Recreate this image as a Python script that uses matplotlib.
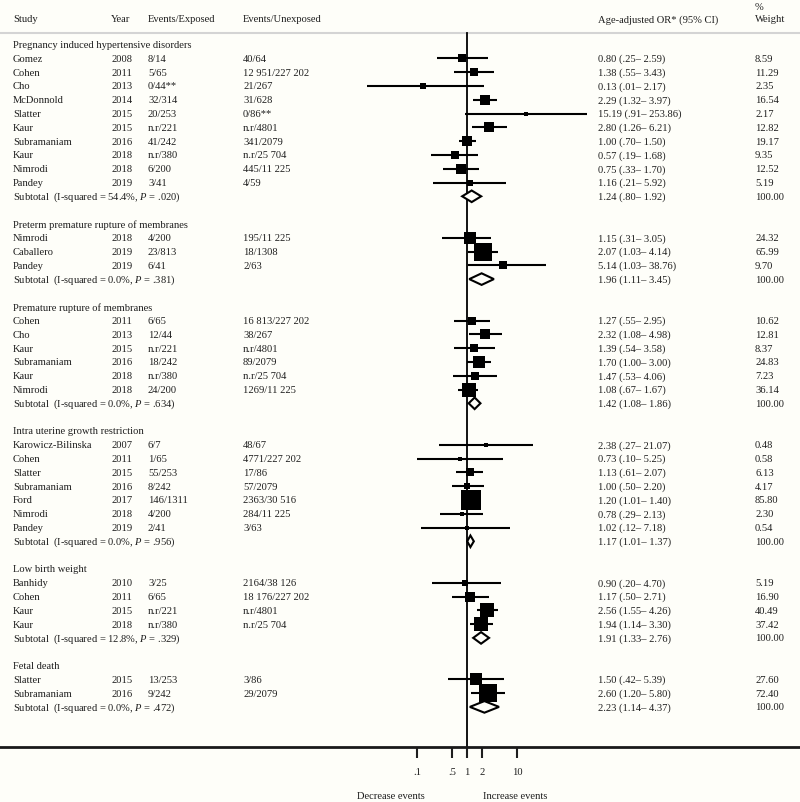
import matplotlib
matplotlib.use('Agg')
import matplotlib.pyplot as plt
from matplotlib import transforms
from matplotlib.patches import Polygon
from matplotlib.ticker import NullLocator

plt.rcParams['font.family'] = ['Liberation Serif', 'DejaVu Serif']
plt.rcParams['mathtext.fontset'] = 'custom'
plt.rcParams['mathtext.rm'] = 'Liberation Serif'
plt.rcParams['mathtext.it'] = 'Liberation Serif:italic'

# ---------------- data ----------------
group_titles = ["Pregnancy induced hypertensive disorders",
                "Preterm premature rupture of membranes",
                "Premature rupture of membranes",
                "Intra uterine growth restriction",
                "Low birth weight",
                "Fetal death"]
group_sizes = [10, 3, 6, 7, 4, 2]

study = ["Gomez", "Cohen", "Cho", "McDonnold", "Slatter", "Kaur", "Subramaniam", "Kaur", "Nimrodi", "Pandey",
         "Nimrodi", "Caballero", "Pandey",
         "Cohen", "Cho", "Kaur", "Subramaniam", "Kaur", "Nimrodi",
         "Karowicz-Bilinska", "Cohen", "Slatter", "Subramaniam", "Ford", "Nimrodi", "Pandey",
         "Banhidy", "Cohen", "Kaur", "Kaur",
         "Slatter", "Subramaniam"]
year = ["2008", "2011", "2013", "2014", "2015", "2015", "2016", "2018", "2018", "2019",
        "2018", "2019", "2019",
        "2011", "2013", "2015", "2016", "2018", "2018",
        "2007", "2011", "2015", "2016", "2017", "2018", "2019",
        "2010", "2011", "2015", "2018",
        "2015", "2016"]
events_exposed = ["8/14", "5/65", "0/44**", "32/314", "20/253", "n.r/221", "41/242", "n.r/380", "6/200", "3/41",
                  "4/200", "23/813", "6/41",
                  "6/65", "12/44", "n.r/221", "18/242", "n.r/380", "24/200",
                  "6/7", "1/65", "55/253", "8/242", "146/1311", "4/200", "2/41",
                  "3/25", "6/65", "n.r/221", "n.r/380",
                  "13/253", "9/242"]
events_unexposed = ["40/64", "12 951/227 202", "21/267", "31/628", "0/86**", "n.r/4801", "341/2079", "n.r/25 704",
                    "445/11 225", "4/59",
                    "195/11 225", "18/1308", "2/63",
                    "16 813/227 202", "38/267", "n.r/4801", "89/2079", "n.r/25 704", "1269/11 225",
                    "48/67", "4771/227 202", "17/86", "57/2079", "2363/30 516", "284/11 225", "3/63",
                    "2164/38 126", "18 176/227 202", "n.r/4801", "n.r/25 704",
                    "3/86", "29/2079"]
odds_ratio = [0.80, 1.38, 0.13, 2.29, 15.19, 2.80, 1.00, 0.57, 0.75, 1.16,
              1.15, 2.07, 5.14,
              1.27, 2.32, 1.39, 1.70, 1.47, 1.08,
              2.38, 0.73, 1.13, 1.00, 1.20, 0.78, 1.02,
              0.90, 1.17, 2.56, 1.94,
              1.50, 2.60]
ci_low = [0.25, 0.55, 0.01, 1.32, 0.91, 1.26, 0.70, 0.19, 0.33, 0.21,
          0.31, 1.03, 1.03,
          0.55, 1.08, 0.54, 1.00, 0.53, 0.67,
          0.27, 0.10, 0.61, 0.50, 1.01, 0.29, 0.12,
          0.20, 0.50, 1.55, 1.14,
          0.42, 1.20]
ci_high = [2.59, 3.43, 2.17, 3.97, 253.86, 6.21, 1.50, 1.68, 1.70, 5.92,
           3.05, 4.14, 38.76,
           2.95, 4.98, 3.58, 3.00, 4.06, 1.67,
           21.07, 5.25, 2.07, 2.20, 1.40, 2.13, 7.18,
           4.70, 2.71, 4.26, 3.30,
           5.39, 5.80]
weight = [8.59, 11.29, 2.35, 16.54, 2.17, 12.82, 19.17, 9.35, 12.52, 5.19,
          24.32, 65.99, 9.70,
          10.62, 12.81, 8.37, 24.83, 7.23, 36.14,
          0.48, 0.58, 6.13, 4.17, 85.80, 2.30, 0.54,
          5.19, 16.90, 40.49, 37.42,
          27.60, 72.40]

sub_i2 = ["54.4", "0.0", "0.0", "0.0", "12.8", "0.0"]
sub_p = [".020", ".381", ".634", ".956", ".329", ".472"]
sub_or = [1.24, 1.96, 1.42, 1.17, 1.91, 2.23]
sub_low = [0.80, 1.11, 1.08, 1.01, 1.33, 1.14]
sub_high = [1.92, 3.45, 1.86, 1.37, 2.76, 4.37]

tick_values = [0.1, 0.5, 1, 2, 10]
tick_labels = [".1", ".5", "1", "2", "10"]

# ---------------- layout ----------------
W, H = 800, 803
BG = '#fefef9'
TXT = '#1e1e1e'
row0_px, pitch = 45.5, 13.8
x1_px, decade_px = 467.0, 50.0


def px2row(p):
    return (p - row0_px) / pitch


def fmt_ci(v):
    s = f"{v:.2f}"
    return s[1:] if s.startswith("0.") else s


fig = plt.figure(figsize=(W / 100, H / 100), dpi=100, facecolor=BG)
ax = fig.add_axes([0, 0, 1, 1], facecolor=BG)
ax.set_xscale('log')
ax.set_xlim(10 ** ((0 - x1_px) / decade_px), 10 ** ((W - x1_px) / decade_px))
ax.set_ylim(px2row(H), px2row(0))

tr = transforms.blended_transform_factory(ax.transAxes, ax.transData)
fs = 7.6
col_study, col_year, col_exp, col_unexp, col_or, col_w = 13, 111, 148, 243, 598, 755


def put(xpx, row, s, **kw):
    ax.text(xpx / W, row, s, transform=tr, fontsize=fs, color=TXT, va='center', ha='left', **kw)


# header
hr = px2row(20)
put(col_study, hr, "Study")
put(col_year, hr, "Year")
put(col_exp, hr, "Events/Exposed")
put(col_unexp, hr, "Events/Unexposed")
put(col_or, hr, "Age-adjusted OR* (95% CI)")
put(col_w, px2row(8), "%")
put(col_w, hr, "Weight")
sep_row = px2row(34)
ax.axhline(sep_row, color='#d4d4d4', lw=1.5, zorder=1)

row = 0
k = 0
for g, title in enumerate(group_titles):
    put(col_study, row, title)
    row += 1
    for _ in range(group_sizes[g]):
        put(col_study, row, study[k])
        put(col_year, row, year[k])
        put(col_exp, row, events_exposed[k])
        put(col_unexp, row, events_unexposed[k])
        put(col_or, row, f"{odds_ratio[k]:.2f} ({fmt_ci(ci_low[k])}\u2013 {fmt_ci(ci_high[k])})")
        put(col_w, row, f"{weight[k]:.2f}")
        ax.plot([ci_low[k], ci_high[k]], [row, row], color='black', lw=1.5, solid_capstyle='butt', zorder=3)
        side_px = max(3.66 * weight[k] ** 0.37, 3.2)
        ax.plot([odds_ratio[k]], [row], marker='s', color='black', markersize=side_px * 0.72,
                markeredgewidth=0, zorder=4)
        row += 1
        k += 1
    put(col_study, row, f"Subtotal  (I-squared = {sub_i2[g]}%, $P$ = {sub_p[g]})")
    put(col_or, row, f"{sub_or[g]:.2f} ({fmt_ci(sub_low[g])}\u2013 {fmt_ci(sub_high[g])})")
    put(col_w, row, "100.00")
    h = 0.42
    diamond = Polygon([(sub_low[g], row), (sub_or[g], row - h), (sub_high[g], row), (sub_or[g], row + h)],
                      closed=True, facecolor=BG, edgecolor='black', lw=1.5, zorder=5)
    ax.add_patch(diamond)
    row += 2

axis_row = px2row(748)
ax.plot([1, 1], [sep_row, axis_row], color='black', lw=1.3, zorder=2)

for s in ['top', 'left', 'right']:
    ax.spines[s].set_visible(False)
ax.spines['bottom'].set_position(('data', axis_row))
ax.spines['bottom'].set_linewidth(2.0)
ax.spines['bottom'].set_color('#1a1a1a')
ax.set_yticks([])
ax.set_xticks(tick_values)
ax.set_xticklabels(tick_labels)
ax.xaxis.set_minor_locator(NullLocator())
ax.tick_params(axis='x', direction='out', length=8, width=1.5, pad=6.5, labelsize=fs, colors=TXT)

lab_row = px2row(797)
ax.text(10 ** ((391 - x1_px) / decade_px), lab_row, "Decrease events", fontsize=fs, color=TXT,
        ha='center', va='center')
ax.text(10 ** ((515 - x1_px) / decade_px), lab_row, "Increase events", fontsize=fs, color=TXT,
        ha='center', va='center')

fig.savefig('out.png', dpi=100, facecolor=BG)
